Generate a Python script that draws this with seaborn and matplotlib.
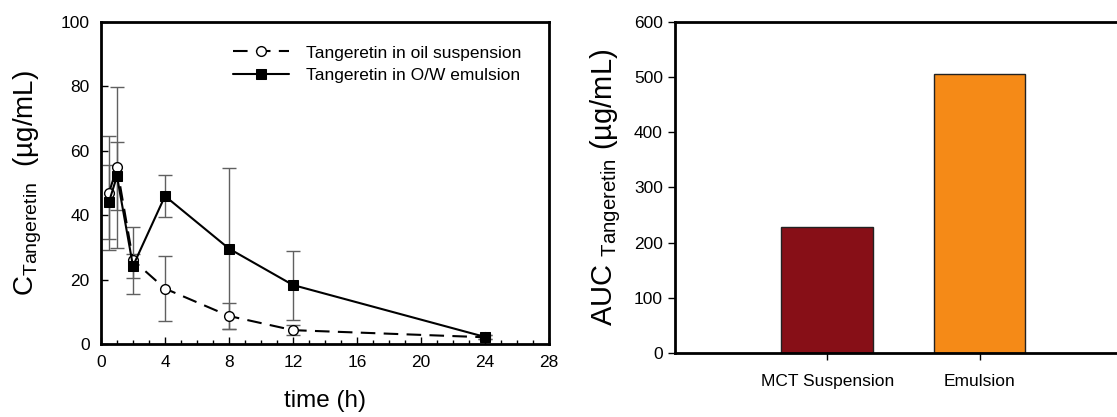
# Tangeretin plasma concentration and AUC
import matplotlib
matplotlib.use("Agg")
import matplotlib.pyplot as plt
from matplotlib.ticker import MultipleLocator
import seaborn as sns
import pandas as pd

# data
time_h = [0.5, 1, 2, 4, 8, 12, 24]
oil_conc = [46.9, 54.8, 26.0, 17.2, 8.7, 4.3, 2.1]
oil_err = [17.7, 25.0, 10.4, 10.1, 4.0, 1.5, 0.6]
emu_conc = [44.1, 52.1, 24.2, 45.9, 29.6, 18.3, 2.2]
emu_err = [11.5, 10.5, 3.8, 6.6, 24.9, 10.7, 0.6]

formulations = ["MCT Suspension", "Emulsion"]
auc_values = [229, 505]
bar_colors = ["#870F17", "#F58A17"]

sns.set_style("ticks")
plt.rcParams["font.family"] = ["Liberation Sans", "DejaVu Sans"]
plt.rcParams["mathtext.fontset"] = "custom"
plt.rcParams["mathtext.rm"] = "Liberation Sans"
plt.rcParams["text.color"] = "black"
plt.rcParams["axes.labelcolor"] = "black"
plt.rcParams["axes.edgecolor"] = "black"
plt.rcParams["xtick.color"] = "black"
plt.rcParams["ytick.color"] = "black"

fig = plt.figure(figsize=(11.17, 4.17), dpi=100)
ax1 = fig.add_axes([0.0904, 0.175, 0.4011, 0.773])
ax2 = fig.add_axes([0.604, 0.1535, 0.396, 0.7945])

# left panel: concentration vs time
oil = pd.DataFrame({"time": time_h, "conc": oil_conc})
emu = pd.DataFrame({"time": time_h, "conc": emu_conc})

ax1.errorbar(time_h, oil_conc, yerr=oil_err, fmt="none", ecolor="#606060",
             elinewidth=1, capsize=5, capthick=1, zorder=1)
ax1.errorbar(time_h, emu_conc, yerr=emu_err, fmt="none", ecolor="#606060",
             elinewidth=1, capsize=5, capthick=1, zorder=1)
sns.lineplot(data=oil, x="time", y="conc", ax=ax1, color="black",
             linestyle=(0, (7, 4)), linewidth=1.5, marker="o", markersize=7,
             markerfacecolor="white", markeredgecolor="black",
             markeredgewidth=1, label="Tangeretin in oil suspension", zorder=3)
sns.lineplot(data=emu, x="time", y="conc", ax=ax1, color="black",
             linewidth=1.5, marker="s", markersize=6.5, markerfacecolor="black",
             markeredgecolor="black", label="Tangeretin in O/W emulsion", zorder=3)

ax1.set_xlim(0, 28)
ax1.set_ylim(0, 100)
ax1.xaxis.set_major_locator(MultipleLocator(4))
ax1.xaxis.set_minor_locator(MultipleLocator(1))
ax1.yaxis.set_major_locator(MultipleLocator(20))
ax1.tick_params(axis="both", which="major", direction="in", length=5,
                width=1, labelsize=12.5, pad=8)
ax1.tick_params(axis="x", which="minor", direction="in", length=3, width=1)
for sp in ax1.spines.values():
    sp.set_linewidth(2)
ax1.set_xlabel("time (h)", fontsize=17.5, labelpad=14)
ax1.set_ylabel(r"$\mathregular{C_{Tangeretin}}$  (µg/mL)", fontsize=20, labelpad=12)
ax1.legend(loc="upper left", bbox_to_anchor=(0.26, 0.975), frameon=False,
           fontsize=12.5, handlelength=3.2, labelspacing=0.45, handletextpad=1.0)

# right panel: AUC bars
auc = pd.DataFrame({"form": formulations, "auc": auc_values})
sns.barplot(data=auc, x="form", y="auc", hue="form", palette=bar_colors,
            saturation=1, width=0.6, edgecolor="#222222", linewidth=1,
            legend=False, ax=ax2)
ax2.set_xlim(-1, 1.9)
ax2.set_ylim(0, 600)
ax2.yaxis.set_major_locator(MultipleLocator(100))
ax2.tick_params(axis="both", direction="out", length=5, width=1,
                labelsize=12.5)
ax2.tick_params(axis="x", pad=10)
for sp in ax2.spines.values():
    sp.set_linewidth(2)
ax2.spines["right"].set_visible(False)
ax2.set_xlabel("")
ax2.set_ylabel(r"AUC $\mathregular{_{Tangeretin}}$ (µg/mL)", fontsize=21, labelpad=8)

fig.savefig("out.png", dpi=100)
